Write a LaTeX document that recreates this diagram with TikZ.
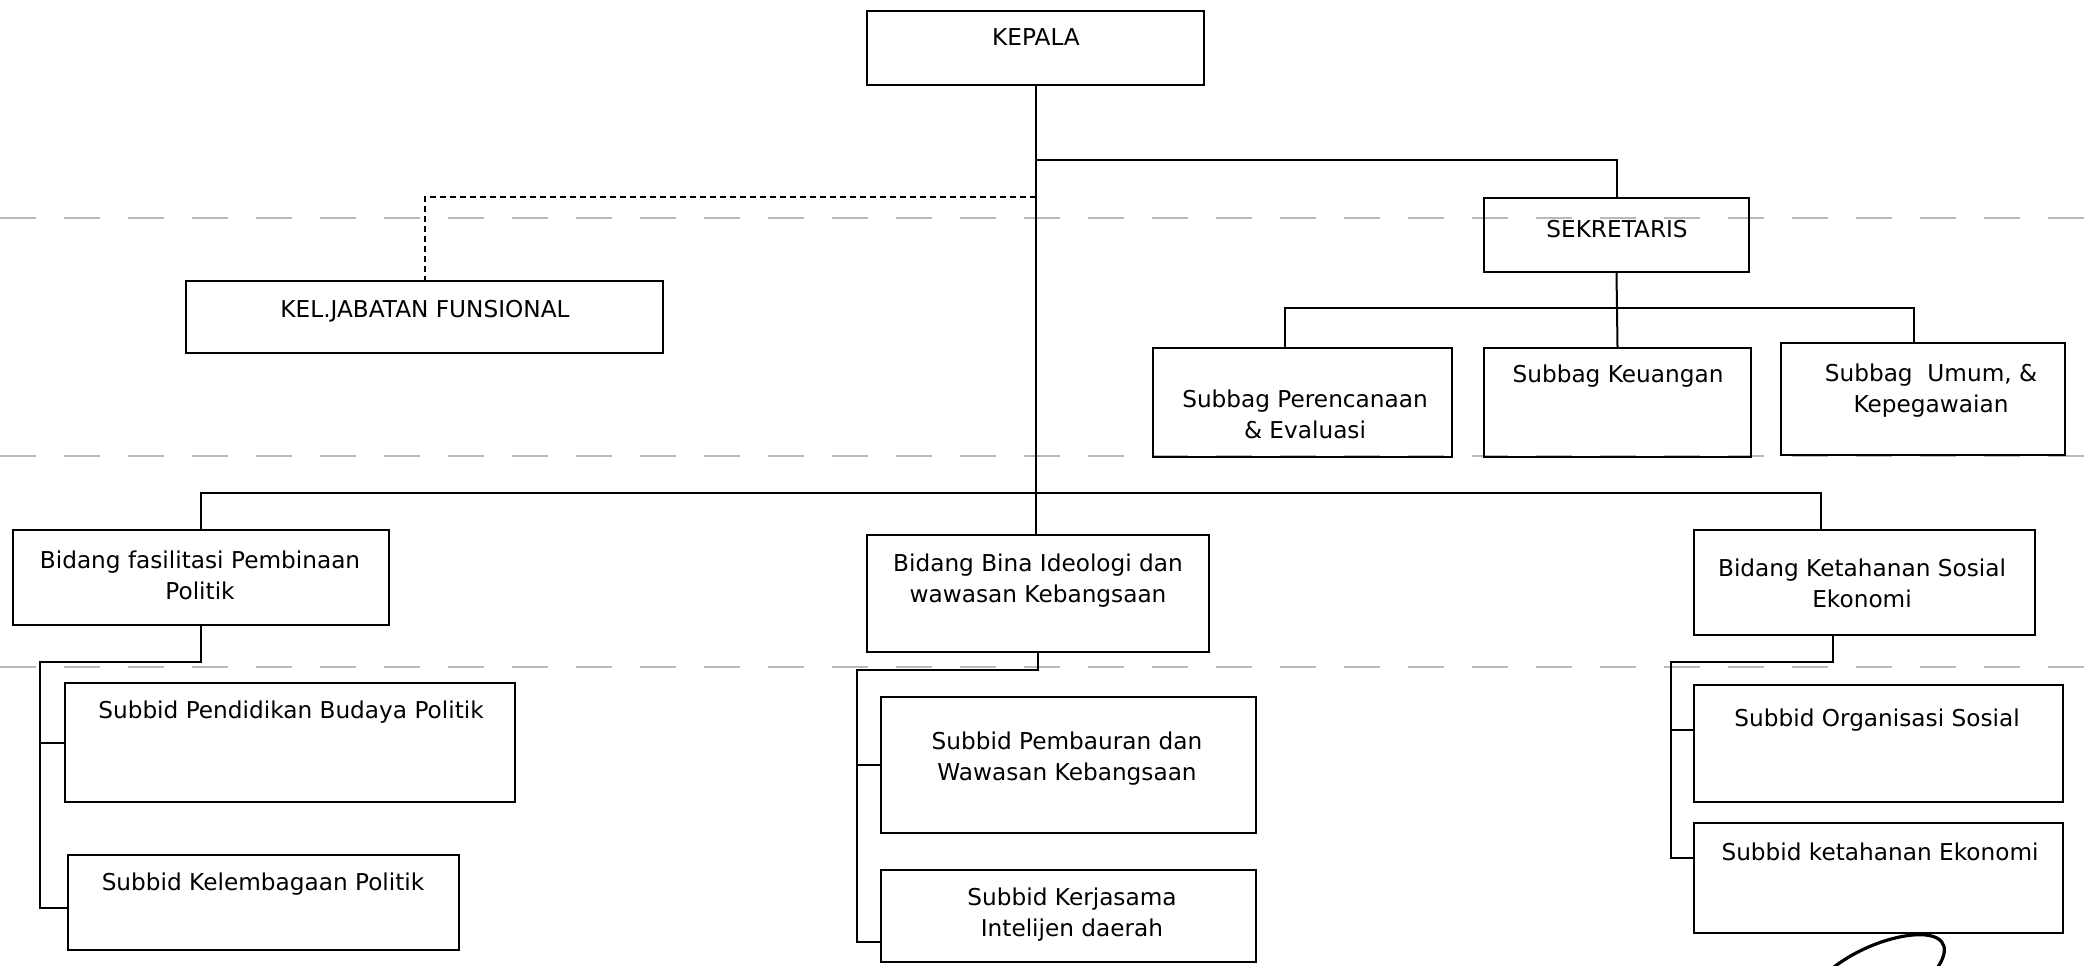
\documentclass[tikz,border=0pt]{standalone}
\usepackage{fontspec}
\setmainfont{DejaVu Sans}
\usetikzlibrary{fit}

\begin{document}
\begin{tikzpicture}[x=0.5pt,y=-0.5pt,
  box/.style={draw,line width=1.2pt,inner sep=0pt},
  txt/.style={align=center,inner sep=0pt,font=\fontsize{11.6}{15.5}\selectfont},
  link/.style={line width=1pt},
  scan/.style={gray!55,line width=0.6pt,dash pattern=on 18pt off 14pt}]
\useasboundingbox (0,0) rectangle (2088,965);
\draw[scan] (0,218) -- (2088,218);
\draw[scan] (0,456) -- (2088,456);
\draw[scan] (0,667) -- (2088,667);

\node[box,fit={(867,11) (1204,85)}] (Kepala) {};
\node[box,fit={(186,281) (663,353)}] (Kel) {};
\node[box,fit={(1484,198) (1749,272)}] (Sek) {};
\node[box,fit={(1153,348) (1452,457)}] (Ren) {};
\node[box,fit={(1484,348) (1751,457)}] (Keu) {};
\node[box,fit={(1781,343) (2065,455)}] (Umum) {};
\node[box,fit={(13,530) (389,625)}] (Pol) {};
\node[box,fit={(867,535) (1209,652)}] (Ideo) {};
\node[box,fit={(1694,530) (2035,635)}] (Sos) {};
\node[box,fit={(65,683) (515,802)}] (Pend) {};
\node[box,fit={(68,855) (459,950)}] (Lemb) {};
\node[box,fit={(881,697) (1256,833)}] (Baur) {};
\node[box,fit={(881,870) (1256,962)}] (Intel) {};
\node[box,fit={(1694,685) (2063,802)}] (Org) {};
\node[box,fit={(1694,823) (2063,933)}] (Eko) {};

\node[txt] (KepalaT) at (1036,37) {KEPALA};
\node[txt] (KelT) at (425,311) {KEL.JABATAN FUNSIONAL};
\node[txt] (SekT) at (1617,229) {SEKRETARIS};
\node[txt] (RenT) at (1305,414) {Subbag Perencanaan\\\& Evaluasi};
\node[txt] (KeuT) at (1618,376) {Subbag Keuangan};
\node[txt] (UmumT) at (1931,391) {Subbag\ \ Umum, \&\\Kepegawaian};
\node[txt] (PolT) at (200,575) {Bidang fasilitasi Pembinaan\\Politik};
\node[txt] (IdeoT) at (1038,581) {Bidang Bina Ideologi dan\\wawasan Kebangsaan};
\node[txt] (SosT) at (1862,583) {Bidang Ketahanan Sosial\\Ekonomi};
\node[txt] (PendT) at (291,712) {Subbid Pendidikan Budaya Politik};
\node[txt] (LembT) at (263,884) {Subbid Kelembagaan Politik};
\node[txt] (BaurT) at (1067,759) {Subbid Pembauran dan\\Wawasan Kebangsaan};
\node[txt] (IntelT) at (1072,915) {Subbid Kerjasama\\Intelijen daerah};
\node[txt] (OrgT) at (1877,720) {Subbid Organisasi Sosial};
\node[txt] (EkoT) at (1880,852) {Subbid ketahanan Ekonomi};

\coordinate (s1) at (1285,308);
\coordinate (s2) at (1914,308);
\coordinate (b1) at (201,493);
\coordinate (b2) at (1821,493);
\coordinate (p1) at (40,662);
\coordinate (p2) at (40,908);
\coordinate (m1) at (857,670);
\coordinate (m2) at (857,942);
\coordinate (r1) at (1833,662);
\coordinate (r2) at (1671,662);
\coordinate (r3) at (1671,858);
\coordinate (r4) at (1671,730);

\draw[link] (Kepala.south) -- (Kepala.south |- Ideo.north);
\draw[link] (Kepala.south |- 0,160) -| (Sek.north);
\draw[link,dash pattern=on 3pt off 2pt] (Kepala.south |- 0,197) -| (Kel.north);
\draw[link] (Sek.south) -- (Keu.north);
\draw[link] (Ren.north -| s1) -- (s1) -- (s2) -- (s2 |- Umum.north);
\draw[link] (b1 |- Pol.north) -- (b1) -- (b2) -- (b2 |- Sos.north);
\draw[link] (Pol.south) |- (p1) -- (p2) -- (p2 -| Lemb.west);
\draw[link] (p1 |- Pend.west) -- (Pend.west);
\draw[link] (Ideo.south) |- (m1) -- (m2) -- (m2 -| Intel.west);
\draw[link] (m1 |- Baur.west) -- (Baur.west);
\draw[link] (r1 |- Sos.south) -- (r1) -- (r2) -- (r3) -- (r3 -| Eko.west);
\draw[link] (r4) -- (r4 -| Org.west);

\draw[line width=1.6pt] (1834,967) .. controls (1885,928) and (1968,920) .. (1938,967);
\end{tikzpicture}
\end{document}
